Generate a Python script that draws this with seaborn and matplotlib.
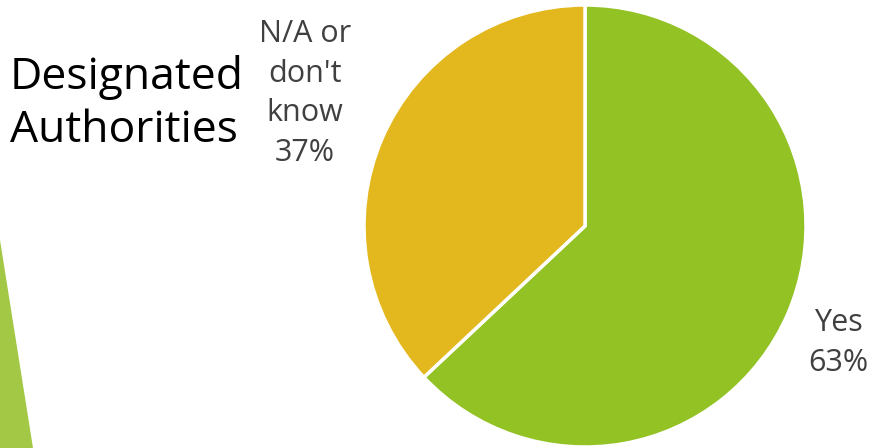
import matplotlib
matplotlib.use("Agg")
import matplotlib.pyplot as plt
from matplotlib.patches import Polygon
import seaborn as sns

categories = ["Yes", "N/A or\ndon't\nknow"]
values = [63, 37]
colors = ["#93C225", "#E3B81F"]
title_lines = ["Designated", "Authorities"]

sns.set_theme(style="white")
plt.rcParams["font.family"] = ["Open Sans", "DejaVu Sans"]

W, H = 872, 448
fig = plt.figure(figsize=(W / 100, H / 100), dpi=100)
fig.patch.set_facecolor("white")

# decorative wedge on the left edge
fig.patches.append(Polygon([(0, 1 - 240 / H), (33 / W, 0), (0, 0)],
                           closed=True, transform=fig.transFigure,
                           facecolor="#A2C846", edgecolor="none"))

cx, cy, r = 585, H - 226, 221
ax = fig.add_axes([(cx - r) / W, (cy - r) / H, 2 * r / W, 2 * r / H])
wedges, _ = ax.pie(values, colors=colors, startangle=90, counterclock=False,
                   wedgeprops=dict(edgecolor="white", linewidth=2.5))
ax.set_xlim(-1, 1)
ax.set_ylim(-1, 1)
ax.set_aspect("equal")
ax.axis("off")

label_pos = [(1.145, -0.53), (-1.267, 0.60)]
for cat, val, (x, y) in zip(categories, values, label_pos):
    ax.text(x, y, f"{cat}\n{val}%", ha="center", va="center",
            fontsize=22, color="#404040", linespacing=1.42, clip_on=False)

fig.text(10 / W, 1 - 104 / H, "\n".join(title_lines), ha="left", va="center",
         fontsize=32, color="black", linespacing=1.25)

fig.savefig("out.png", dpi=100, facecolor="white")
